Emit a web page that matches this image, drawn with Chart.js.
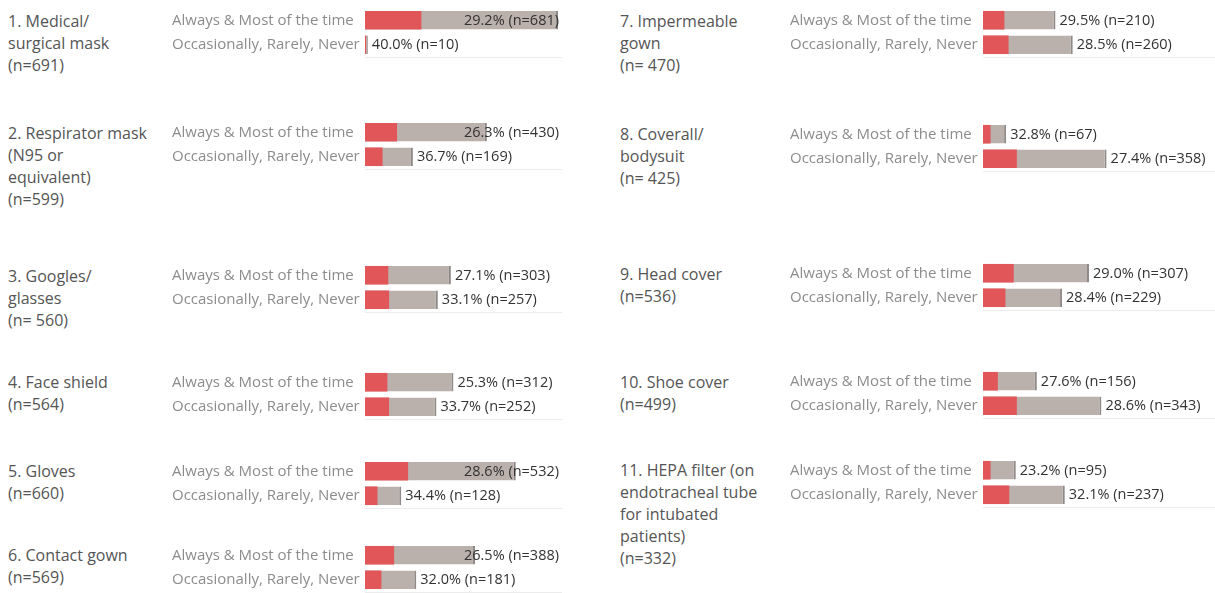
<!DOCTYPE html>
<html>
<head>
<meta charset="utf-8">
<script src="https://cdn.jsdelivr.net/npm/chart.js@4.4.1/dist/chart.umd.min.js"></script>
<style>
  html, body { margin: 0; padding: 0; background: #fff; }
  body { width: 1215px; height: 593px; position: relative; overflow: hidden; font-family: "Open Sans", sans-serif; }
  .title { position: absolute; font-size: 16px; line-height: 22px; color: #555; white-space: pre; }
  canvas { position: absolute; }
</style>
</head>
<body>
<script>
// ---- Data ----
const categories = ['Always & Most of the time', 'Occasionally, Rarely, Never'];
const itemTitles = [
  ['1. Medical/', 'surgical mask', '(n=691)'],
  ['2. Respirator mask', '(N95 or', 'equivalent)', '(n=599)'],
  ['3. Googles/', 'glasses', '(n= 560)'],
  ['4. Face shield', '(n=564)'],
  ['5. Gloves', '(n=660)'],
  ['6. Contact gown', '(n=569)'],
  ['7. Impermeable', 'gown', '(n= 470)'],
  ['8. Coverall/', 'bodysuit', '(n= 425)'],
  ['9. Head cover', '(n=536)'],
  ['10. Shoe cover', '(n=499)'],
  ['11. HEPA filter (on', 'endotracheal tube', 'for intubated', 'patients)', '(n=332)']
];
const alwaysPct = [29.2, 26.3, 27.1, 25.3, 28.6, 26.5, 29.5, 32.8, 29.0, 27.6, 23.2];
const alwaysN   = [681, 430, 303, 312, 532, 388, 210, 67, 307, 156, 95];
const neverPct  = [40.0, 36.7, 33.1, 33.7, 34.4, 32.0, 28.5, 27.4, 28.4, 28.6, 32.1];
const neverN    = [10, 169, 257, 252, 128, 181, 260, 358, 229, 343, 237];

// ---- Layout (positions only) ----
const column = [0,0,0,0,0,0,1,1,1,1,1];
const rowCenter = [20.5, 132.5, 275.5, 382, 471, 555, 20.5, 134, 273.5, 381.5, 470];
const colLayout = [
  { titleX: 8,   canvasX: 172, width: 390, xMax: 695 },
  { titleX: 620, canvasX: 790, width: 425, xMax: 672 }
];
const BAND = 24.5;
const RED = '#e15759', GREY = '#bab0ac', EDGE = '#8f8987';

const labelPlugin = {
  id: 'valueLabels',
  afterDatasetsDraw(chart, args, opts) {
    const ctx = chart.ctx;
    const meta = chart.getDatasetMeta(1);
    const area = chart.chartArea;
    ctx.save();
    ctx.font = '14.5px "Open Sans", sans-serif';
    ctx.fillStyle = '#333';
    ctx.textBaseline = 'middle';
    ctx.textAlign = 'left';
    meta.data.forEach((bar, i) => {
      const txt = opts.pct[i].toFixed(1) + '% (n=' + opts.n[i] + ')';
      const w = ctx.measureText(txt).width;
      const x = Math.min(bar.x + 4, area.right - 3 - w);
      ctx.fillText(txt, x, bar.y + 0.5);
    });
    ctx.strokeStyle = '#ececec';
    ctx.lineWidth = 1;
    ctx.beginPath();
    ctx.moveTo(area.left, area.bottom + 0.5);
    ctx.lineTo(area.right, area.bottom + 0.5);
    ctx.stroke();
    ctx.restore();
  }
};

itemTitles.forEach((lines, i) => {
  const L = colLayout[column[i]];
  const c1 = rowCenter[i];

  const t = document.createElement('div');
  t.className = 'title';
  t.style.left = L.titleX + 'px';
  t.style.top = (c1 - 11) + 'px';
  t.textContent = lines.join('\n');
  document.body.appendChild(t);

  const cv = document.createElement('canvas');
  cv.width = L.width; cv.height = 53;
  cv.style.left = L.canvasX + 'px';
  cv.style.top = (c1 - BAND / 2) + 'px';
  cv.style.width = L.width + 'px'; cv.style.height = '53px';
  document.body.appendChild(cv);

  const pct = [alwaysPct[i], neverPct[i]];
  const n = [alwaysN[i], neverN[i]];
  const positive = pct.map((p, k) => p / 100 * n[k]);

  new Chart(cv, {
    type: 'bar',
    data: {
      labels: categories,
      datasets: [
        { data: positive, backgroundColor: RED, borderWidth: 0, order: 0, grouped: false,
          barPercentage: 0.76, categoryPercentage: 1.0 },
        { data: n, backgroundColor: GREY, borderColor: EDGE,
          borderWidth: { top: 0, right: 2, bottom: 0, left: 0 }, borderSkipped: false,
          order: 1, grouped: false, barPercentage: 0.76, categoryPercentage: 1.0 }
      ]
    },
    options: {
      indexAxis: 'y',
      responsive: false,
      animation: false,
      devicePixelRatio: 1,
      layout: { padding: { top: 0, bottom: 4, left: 0, right: 0 } },
      plugins: {
        legend: { display: false },
        tooltip: { enabled: false },
        valueLabels: { pct: pct, n: n }
      },
      scales: {
        x: { display: false, min: 0, max: L.xMax },
        y: {
          afterFit(scale) { scale.width = 193; scale.paddingTop = 0; scale.paddingBottom = 0; },
          grid: { display: false },
          border: { display: false },
          ticks: {
            crossAlign: 'far', padding: 0,
            color: '#8c8c8c',
            font: { family: '"Open Sans", sans-serif', size: 15 }
          }
        }
      }
    },
    plugins: [labelPlugin]
  });
});
</script>
</body>
</html>
